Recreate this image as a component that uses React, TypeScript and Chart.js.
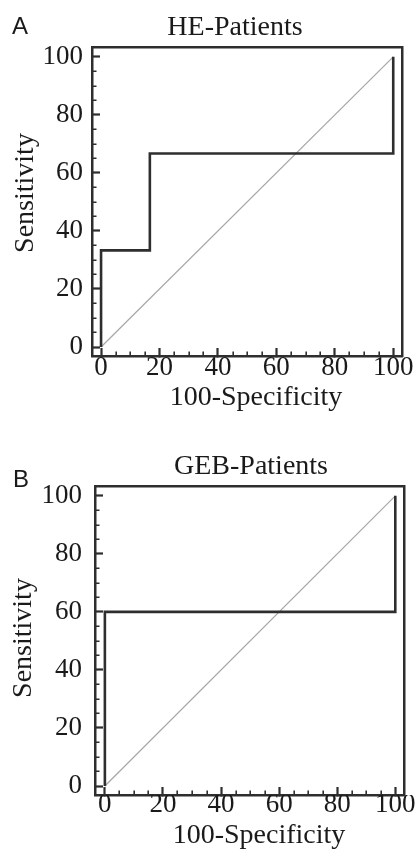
import React, { useEffect, useRef } from "react";
import { Chart, registerables } from "chart.js";

Chart.register(...registerables);

// ---- data ----
const TICK_VALUES = [0, 20, 40, 60, 80, 100];
const HE_FPR = [0, 0, 16.7, 16.7, 100, 100];
const HE_SENS = [0, 33.3, 33.3, 66.7, 66.7, 100];
const GEB_FPR = [0, 0, 100, 100];
const GEB_SENS = [0, 60, 60, 100];
const DIAG_X = [0, 100];
const DIAG_Y = [0, 100];

const X_TITLE = "100-Specificity";
const Y_TITLE = "Sensitivity";

const SERIF = "'Liberation Serif', 'Times New Roman', Times, serif";
const SANS = "'Liberation Sans', Arial, Helvetica, sans-serif";
const INK = "#1a1a1a";
const LINE = "#2e2e2e";
const DIAG = "#a6a6a6";

type Panel = {
  letter: string;
  title: string;
  fpr: number[];
  sens: number[];
  xMin: number;
  xMax: number;
  yMin: number;
  yMax: number;
  padTop: number;
  padRight: number;
  yWidth: number;
  xHeight: number;
  yTickPad: number;
  xTickPad: number;
  titleX: number;
  titleY: number;
  letterX: number;
  letterY: number;
  xTitleX: number;
  xTitleY: number;
  yTitleX: number;
  yTitleY: number;
};

const PANELS: Panel[] = [
  {
    letter: "A",
    title: "HE-Patients",
    fpr: HE_FPR,
    sens: HE_SENS,
    xMin: -3.1,
    xMax: 103.1,
    yMin: -3.1,
    yMax: 103.4,
    padTop: 47,
    padRight: 17,
    yWidth: 92,
    xHeight: 74,
    yTickPad: 17,
    xTickPad: 6,
    titleX: 235,
    titleY: 35,
    letterX: 12,
    letterY: 34,
    xTitleX: 256,
    xTitleY: 398,
    yTitleX: 26,
    yTitleY: 193,
  },
  {
    letter: "B",
    title: "GEB-Patients",
    fpr: GEB_FPR,
    sens: GEB_SENS,
    xMin: -3.4,
    xMax: 103.1,
    yMin: -3.1,
    yMax: 103.4,
    padTop: 56,
    padRight: 14,
    yWidth: 95,
    xHeight: 65,
    yTickPad: 21,
    xTickPad: 4,
    titleX: 251,
    titleY: 44,
    letterX: 13,
    letterY: 57,
    xTitleX: 259,
    xTitleY: 406,
    yTitleX: 24,
    yTitleY: 208,
  },
];

const decoPlugin = {
  id: "panelDeco",
  afterDraw(chart: any, _args: any, opts: any) {
    const { ctx, chartArea, scales } = chart;
    const xs = scales.x;
    const ys = scales.y;
    ctx.save();
    // minor ticks (inward)
    ctx.strokeStyle = LINE;
    ctx.lineWidth = 1.6;
    ctx.beginPath();
    for (let v = 5; v < 100; v += 5) {
      if (v % 20 === 0) continue;
      const px = Math.round(xs.getPixelForValue(v)) + 0.2;
      ctx.moveTo(px, chartArea.bottom);
      ctx.lineTo(px, chartArea.bottom - 4.5);
      const py = Math.round(ys.getPixelForValue(v)) + 0.2;
      ctx.moveTo(chartArea.left, py);
      ctx.lineTo(chartArea.left + 4.5, py);
    }
    ctx.stroke();
    // texts
    ctx.fillStyle = INK;
    ctx.textBaseline = "alphabetic";
    ctx.textAlign = "center";
    ctx.font = `28px ${SERIF}`;
    ctx.fillText(opts.title, opts.titleX, opts.titleY);
    ctx.textBaseline = "middle";
    ctx.fillText(X_TITLE, opts.xTitleX, opts.xTitleY);
    ctx.save();
    ctx.translate(opts.yTitleX, opts.yTitleY);
    ctx.rotate(-Math.PI / 2);
    ctx.fillText(Y_TITLE, 0, 0);
    ctx.restore();
    ctx.textBaseline = "alphabetic";
    ctx.textAlign = "left";
    ctx.font = `24px ${SANS}`;
    ctx.fillText(opts.letter, opts.letterX, opts.letterY);
    ctx.restore();
  },
};

function RocPanel({ p }: { p: Panel }) {
  const ref = useRef<HTMLCanvasElement | null>(null);
  useEffect(() => {
    if (!ref.current) return;
    const roc = p.fpr.map((x, i) => ({ x, y: p.sens[i] }));
    const diag = DIAG_X.map((x, i) => ({ x, y: DIAG_Y[i] }));
    const tickFont = { family: SERIF, size: 27, lineHeight: 1 };
    const chart = new Chart(ref.current, {
      type: "scatter",
      data: {
        datasets: [
          {
            data: roc,
            showLine: true,
            borderColor: LINE,
            borderWidth: 2.6,
            pointRadius: 0,
            tension: 0,
            xAxisID: "x",
            yAxisID: "y",
          },
          {
            data: diag,
            showLine: true,
            borderColor: DIAG,
            borderWidth: 1.2,
            pointRadius: 0,
            tension: 0,
            xAxisID: "x",
            yAxisID: "y",
          },
        ],
      },
      options: {
        responsive: false,
        animation: false,
        events: [],
        layout: { padding: { top: p.padTop, right: p.padRight, left: 0, bottom: 0 } },
        plugins: {
          legend: { display: false },
          tooltip: { enabled: false },
          title: { display: false },
          panelDeco: p,
        } as any,
        scales: {
          x: {
            type: "linear",
            position: "bottom",
            min: p.xMin,
            max: p.xMax,
            afterFit: (s: any) => {
              s.height = p.xHeight;
            },
            grid: {
              drawOnChartArea: false,
              drawTicks: true,
              tickLength: -8,
              tickWidth: 2.2,
              tickColor: LINE,
            },
            border: { display: true, color: LINE, width: 2.5 },
            ticks: {
              stepSize: 20,
              includeBounds: false,
              autoSkip: false,
              maxRotation: 0,
              padding: p.xTickPad,
              color: INK,
              font: tickFont,
              callback: (v: any) => (TICK_VALUES.includes(Number(v)) ? String(v) : ""),
            },
          },
          y: {
            type: "linear",
            position: "left",
            min: p.yMin,
            max: p.yMax,
            afterFit: (s: any) => {
              s.width = p.yWidth;
            },
            grid: {
              drawOnChartArea: false,
              drawTicks: true,
              tickLength: -8,
              tickWidth: 2.2,
              tickColor: LINE,
            },
            border: { display: true, color: LINE, width: 2.5 },
            ticks: {
              stepSize: 20,
              includeBounds: false,
              autoSkip: false,
              padding: p.yTickPad,
              color: INK,
              font: tickFont,
              callback: (v: any) => (TICK_VALUES.includes(Number(v)) ? String(v) : ""),
            },
          },
          x2: {
            type: "linear",
            position: "top",
            min: p.xMin,
            max: p.xMax,
            afterFit: (s: any) => {
              s.height = 0;
            },
            ticks: { display: false },
            grid: { drawOnChartArea: false, drawTicks: false },
            border: { display: true, color: LINE, width: 2.5 },
          },
          y2: {
            type: "linear",
            position: "right",
            min: p.yMin,
            max: p.yMax,
            afterFit: (s: any) => {
              s.width = 0;
            },
            ticks: { display: false },
            grid: { drawOnChartArea: false, drawTicks: false },
            border: { display: true, color: LINE, width: 2.5 },
          },
        } as any,
      },
      plugins: [decoPlugin],
    } as any);
    return () => chart.destroy();
  }, [p]);
  return <canvas ref={ref} width={420} height={430} style={{ display: "block", width: 420, height: 430 }} />;
}

export default function App() {
  return (
    <div style={{ position: "absolute", left: 0, top: 0, width: 420, height: 860, background: "#ffffff" }}>
      {PANELS.map((p) => (
        <RocPanel key={p.letter} p={p} />
      ))}
    </div>
  );
}
